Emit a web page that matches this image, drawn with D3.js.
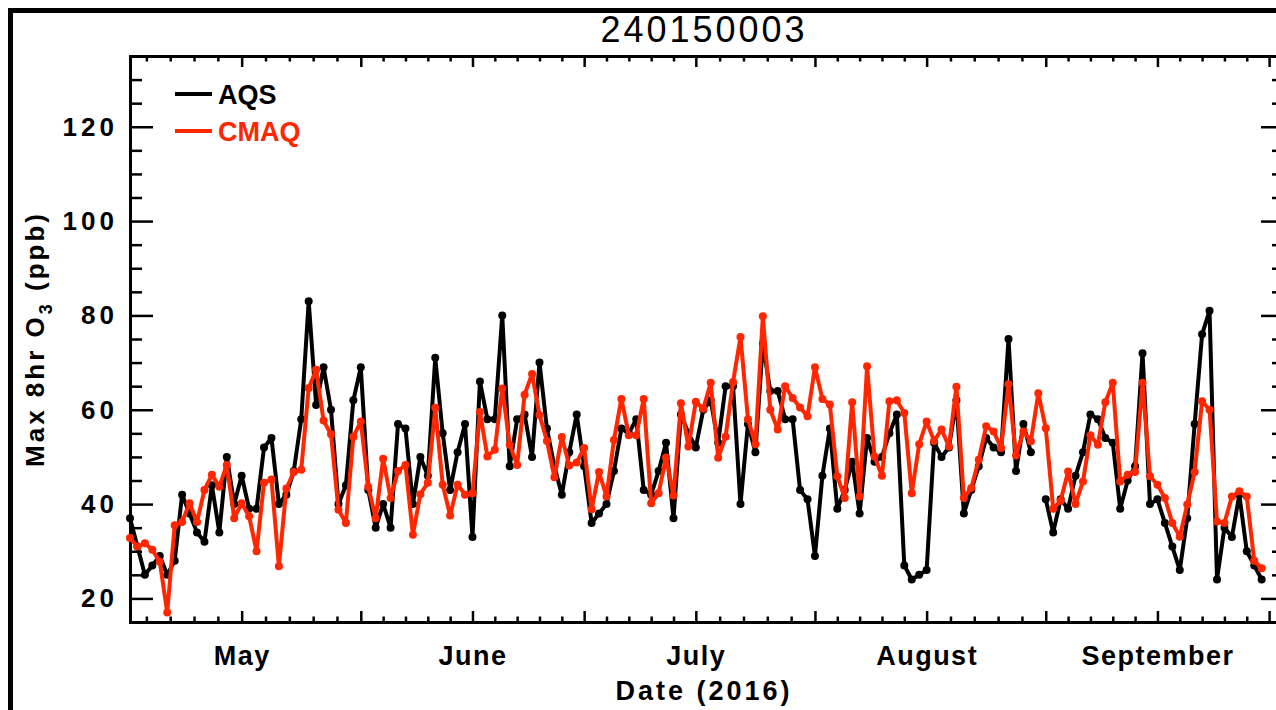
<!DOCTYPE html>
<html>
<head>
<meta charset="utf-8">
<script src="https://cdn.jsdelivr.net/npm/d3@7"></script>
<style>
  html, body { margin: 0; padding: 0; background: #fff; overflow: hidden; }
  svg { display: block; }
  text { font-family: "Liberation Sans", Arial, sans-serif; fill: #000; }
</style>
</head>
<body>
<svg id="chart"></svg>
<script>
// daily values, first day 2016-04-16
const startDate = Date.UTC(2016, 3, 16);
const aqs = [
  37, 31, 25, 27, 29, 25, 28, 42, 38, 34,
  32, 44, 34, 50, 40, 46, 39, 39, 52, 54,
  40, 42, 47, 58, 83, 61, 69, 60, 40, 44,
  62, 69, 43, 35, 40, 35, 57, 56, 40, 50,
  46, 71, 55, 43, 51, 57, 33, 66, 58, 58,
  80, 48, 58, 59, 50, 70, 56, 48, 42, 51,
  59, 48, 36, 38, 40, 47, 56, 55, 58, 43,
  42, 47, 53, 37, 59, 55, 52, 60, 62, 53,
  65, 65, 40, 57, 51, 74, 64, 64, 58, 58,
  43, 41, 29, 46, 56, 39, 43, 49, 38, 54,
  49, 50, 55, 59, 27, 24, 25, 26, 53, 50,
  52, 62, 38, 43, 48, 54, 52, 51, 75, 47,
  57, 51, null, 41, 34, 41, 39, 46, 51, 59,
  58, 54, 53, 39, 45, 48, 72, 40, 41, 36,
  31, 26, 37, 57, 76, 81, 24, 35, 33, 42,
  30, 27, 24
];
const cmaq = [
  32.8, 31, 31.7, 30.3, 27.8, 17, 35.5, 36.2, 40.2, 36.2,
  43, 46.2, 43.7, 48.3, 37, 40.2, 37.4, 30, 44.5, 45.2,
  26.8, 43.3, 46.8, 47.3, 64.6, 68.5, 57.7, 54.8, 38.8, 36,
  54.3, 57.5, 43.7, 37, 49.6, 41.3, 47, 48.3, 33.5, 42.1,
  44.5, 60.4, 44.1, 37.6, 44.1, 42, 42.3, 59.5, 50.1, 51.5,
  64.5, 52.6, 48.3, 63.2, 67.6, 58.9, 53.4, 45.7, 54.2, 48.2,
  48.8, 51.9, 38.9, 46.8, 41.6, 53.6, 62.3, 54.6, 54.6, 62.3,
  40.2, 42.3, 49.9, 41.8, 61.4, 52.2, 61.7, 60.2, 65.7, 49.8,
  54.3, 65.9, 75.4, 58, 52.7, 79.8, 60, 55.8, 65, 62.5,
  60.5, 58.6, 69, 62.3, 61.1, 45.9, 41.3, 61.6, 41.6, 69.2,
  50.1, 46, 61.8, 62, 59.3, 42.3, 52.7, 57.5, 53.4, 55.8,
  52.2, 64.9, 41.3, 43.4, 49.4, 56.5, 55.4, 51.9, 65.4, 50.3,
  55.4, 53.3, 63.5, 56.1, 39, 40.7, 46.9, 40, 44.8, 54.6,
  52.6, 61.6, 65.7, 44.8, 46.2, 46.8, 65.7, 45.9, 44.1, 41.3,
  36, 33.1, 39.9, 46.8, 61.8, 60, 36.3, 36, 41.6, 42.7,
  41.6, 28, 26.4
];
const seriesNames = ["AQS", "CMAQ"];
const seriesColors = ["#000000", "#ff2600"];

const titleText = "240150003";
const xTitle = "Date (2016)";
const yTicks = [20, 40, 60, 80, 100, 120];
const monthLabels = ["May", "June", "July", "August", "September"];
const monthStarts = ["2016-05-01", "2016-06-01", "2016-07-01", "2016-08-01", "2016-09-01"];
const majorTickDates = ["2016-04-15", "2016-05-01", "2016-05-17", "2016-06-01", "2016-06-16",
  "2016-07-01", "2016-07-17", "2016-08-01", "2016-08-17", "2016-09-01", "2016-09-16", "2016-10-01"];

const W = 1276, H = 710;
const box = { left: 130, right: 1284, top: 56, bottom: 622 };

const parse = s => new Date(s + "T00:00:00Z");
const day = i => new Date(startDate + i * 864e5);

const svg = d3.select("#chart")
  .attr("width", W)
  .attr("height", H);

// outer frame (only left and top edges are in view)
svg.append("rect")
  .attr("x", 10.5).attr("y", 10.5)
  .attr("width", W + 20).attr("height", H + 20)
  .attr("fill", "none")
  .attr("stroke", "#000")
  .attr("stroke-width", 5);

const x = d3.scaleUtc([new Date(startDate), parse("2016-09-18")], [box.left, box.right]);
const y = d3.scaleLinear([15, 135], [box.bottom, box.top]);

// minor ticks: 5 intervals between major ticks
const majors = majorTickDates.map(parse);
const minors = [];
for (let i = 0; i < majors.length - 1; i++) {
  const a = +majors[i], b = +majors[i + 1];
  for (let k = 1; k < 5; k++) minors.push(new Date(a + (b - a) * k / 5));
}
const inX = d => x(d) >= box.left && x(d) <= box.right;
const majorsIn = majors.filter(inX);
const minorsIn = minors.filter(inX);
const yMinor = d3.range(15, 136, 5).filter(v => !yTicks.includes(v));

const monthName = d => {
  const i = monthStarts.indexOf(d.toISOString().slice(0, 10));
  return i >= 0 ? monthLabels[i] : "";
};

const axes = svg.append("g").attr("class", "axes");

const styleAxis = g => {
  g.select(".domain").attr("stroke-width", 3);
  g.selectAll(".tick line").attr("stroke-width", 2.5);
};

// bottom
axes.append("g")
  .attr("transform", `translate(0,${box.bottom})`)
  .call(d3.axisBottom(x).tickValues(minorsIn).tickSize(-5.5).tickFormat(""))
  .call(styleAxis);
axes.append("g")
  .attr("transform", `translate(0,${box.bottom})`)
  .call(d3.axisBottom(x).tickValues(majorsIn).tickSizeInner(-11).tickSizeOuter(0)
    .tickPadding(24).tickFormat(monthName))
  .call(styleAxis)
  .call(g => g.selectAll("text")
    .attr("font-size", 27)
    .attr("font-weight", "bold")
    .attr("letter-spacing", 1.5)
    .attr("font-family", "'Liberation Sans', Arial, sans-serif"));

// top
axes.append("g")
  .attr("transform", `translate(0,${box.top})`)
  .call(d3.axisTop(x).tickValues(minorsIn).tickSize(-5.5).tickFormat(""))
  .call(styleAxis);
axes.append("g")
  .attr("transform", `translate(0,${box.top})`)
  .call(d3.axisTop(x).tickValues(majorsIn).tickSize(-11).tickFormat(""))
  .call(styleAxis);

// left
axes.append("g")
  .attr("transform", `translate(${box.left},0)`)
  .call(d3.axisLeft(y).tickValues(yMinor).tickSize(-12).tickFormat(""))
  .call(styleAxis);
axes.append("g")
  .attr("transform", `translate(${box.left},0)`)
  .call(d3.axisLeft(y).tickValues(yTicks).tickSizeInner(-23).tickSizeOuter(0).tickPadding(12))
  .call(styleAxis)
  .call(g => g.selectAll("text")
    .attr("font-size", 26)
    .attr("font-weight", "bold")
    .attr("letter-spacing", 4)
    .attr("font-family", "'Liberation Sans', Arial, sans-serif"));

// right
axes.append("g")
  .attr("transform", `translate(${box.right},0)`)
  .call(d3.axisRight(y).tickValues(yMinor).tickSize(-12).tickFormat(""))
  .call(styleAxis);
axes.append("g")
  .attr("transform", `translate(${box.right},0)`)
  .call(d3.axisRight(y).tickValues(yTicks).tickSize(-23).tickFormat(""))
  .call(styleAxis);

// series: black first, red drawn over it
const series = [aqs, cmaq];
const line = d3.line()
  .defined(d => d.v != null)
  .x(d => x(d.t))
  .y(d => y(d.v));

series.forEach((vals, s) => {
  const pts = vals.map((v, i) => ({ t: day(i), v: v }));
  const g = svg.append("g").attr("class", "series-" + seriesNames[s]);
  g.append("path")
    .datum(pts)
    .attr("d", line)
    .attr("fill", "none")
    .attr("stroke", seriesColors[s])
    .attr("stroke-width", 4)
    .attr("stroke-linejoin", "round");
  g.selectAll("circle")
    .data(pts.filter(d => d.v != null))
    .join("circle")
    .attr("cx", d => x(d.t))
    .attr("cy", d => y(d.v))
    .attr("r", 4)
    .attr("fill", seriesColors[s]);
});

// legend
const legend = svg.append("g").attr("transform", "translate(175,94)");
seriesNames.forEach((name, i) => {
  legend.append("line")
    .attr("x1", 0).attr("x2", 37)
    .attr("y1", i * 37).attr("y2", i * 37)
    .attr("stroke", seriesColors[i])
    .attr("stroke-width", 4);
  legend.append("text")
    .attr("x", 43)
    .attr("y", i * 37 + 10)
    .attr("font-size", 27)
    .attr("font-weight", "bold")
    .style("fill", seriesColors[i])
    .text(name);
});

// titles
svg.append("text")
  .attr("x", (box.left + 1278) / 2)
  .attr("y", 42)
  .attr("text-anchor", "middle")
  .attr("font-size", 36)
  .attr("letter-spacing", 3)
  .text(titleText);

svg.append("text")
  .attr("x", (box.left + 1278) / 2)
  .attr("y", 700)
  .attr("text-anchor", "middle")
  .attr("font-size", 27)
  .attr("font-weight", "bold")
  .attr("letter-spacing", 3)
  .text(xTitle);

const yLab = svg.append("text")
  .attr("transform", `translate(44,${(box.top + box.bottom) / 2}) rotate(-90)`)
  .attr("text-anchor", "middle")
  .attr("font-size", 26)
  .attr("font-weight", "bold")
  .attr("letter-spacing", 3);
yLab.append("tspan").text("Max 8hr O");
yLab.append("tspan").attr("dy", 8).attr("font-size", 18).text("3");
yLab.append("tspan").attr("dy", -8).text(" (ppb)");
</script>
</body>
</html>
